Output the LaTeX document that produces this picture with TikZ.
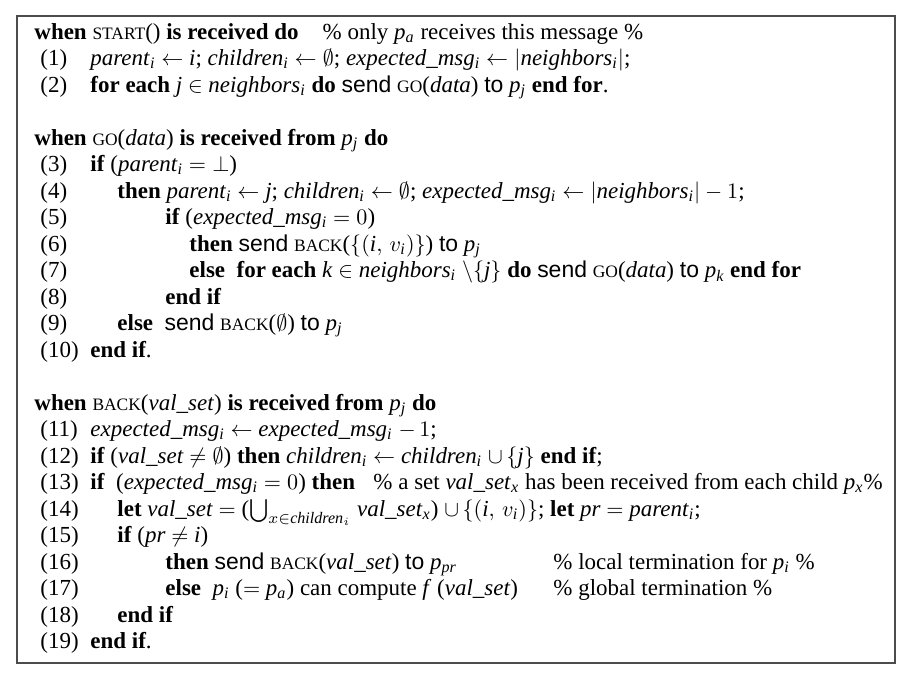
\documentclass[tikz,border=0pt]{standalone}
\usepackage{amsmath,amssymb}
\usepackage{fontspec}
\setmainfont{Liberation Serif}
\setsansfont{Liberation Sans}
\usetikzlibrary{positioning}

% message names in (faked) small capitals
\newcommand{\msgsc}[1]{{\fontsize{7.9}{9}\selectfont #1}}
% italic subscript
\newcommand{\ix}[1]{$_{\textit{#1}}$}
\newcommand{\kw}[1]{\textbf{#1}}
\newcommand{\op}[1]{\textsf{#1}}

\begin{document}
\begin{tikzpicture}
[x=0.4528pt, y=-0.4528pt, font=\fontsize{10.4}{12}\selectfont,
lnum/.style={anchor=base west, inner sep=0pt},
code/.style={anchor=base west, inner sep=0pt},
frame/.style={draw=black!70, line width=0.7pt}]

\useasboundingbox (0,0) rectangle (914,681);
\draw[frame] (17,16) rectangle (895,663);

% line numbers (slot = row of the listing)
\foreach \n/\s in {1/1,2/2,3/5,4/6,5/7,6/8,7/9,8/10,9/11,10/12,
  11/15,12/16,13/17,14/18,15/19,16/20,17/21,18/22,19/23} {
  \node[lnum] (n\n) at (40,39+26.5*\s) {(\n)};
}

% when START()
\node[code] (hstart) at (34,39) {\kw{when} \msgsc{START}() \kw{is received do}\hspace{1.05em}\% only \textit{p}\ix{a} receives this message \%};
\node[code] (b1) at (90,39+26.5*1) {\textit{parent}\ix{i} $\leftarrow$ \textit{i}; \textit{children}\ix{i} $\leftarrow\emptyset$; \textit{expected\_msg}\ix{i} $\leftarrow|$\textit{neighbors}\ix{i}$|$;};
\node[code] (b2) at (90,39+26.5*2) {\kw{for each} \textit{j} $\in$ \textit{neighbors}\ix{i} \kw{do} \op{send} \msgsc{GO}(\textit{data}) \op{to} \textit{p}\ix{j} \kw{end for}.};

% when GO(data)
\node[code] (hgo) at (34,39+26.5*4) {\kw{when} \msgsc{GO}(\textit{data}) \kw{is received from} \textit{p}\ix{j} \kw{do}};
\node[code] (b3) at (90,39+26.5*5) {\kw{if} (\textit{parent}\ix{i} $=\bot$)};
\node[code] (b4) at (117,39+26.5*6) {\kw{then} \textit{parent}\ix{i} $\leftarrow$ \textit{j}; \textit{children}\ix{i} $\leftarrow\emptyset$; \textit{expected\_msg}\ix{i} $\leftarrow|$\textit{neighbors}\ix{i}$|-1$;};
\node[code] (b5) at (165,39+26.5*7) {\kw{if} (\textit{expected\_msg}\ix{i} $=0$)};
\node[code] (b6) at (189,39+26.5*8) {\kw{then} \op{send} \msgsc{BACK}($\{(\textit{i},\,v_{\textit{i}})\}$) \op{to} \textit{p}\ix{j}};
\node[code] (b7) at (189,39+26.5*9) {\kw{else}\ \ \kw{for each} \textit{k} $\in$ \textit{neighbors}\ix{i} $\setminus\{$\textit{j}$\}$ \kw{do} \op{send} \msgsc{GO}(\textit{data}) \op{to} \textit{p}\ix{k} \kw{end for}};
\node[code] (b8) at (165,39+26.5*10) {\kw{end if}};
\node[code] (b9) at (117,39+26.5*11) {\kw{else}\ \ \op{send} \msgsc{BACK}($\emptyset$) \op{to} \textit{p}\ix{j}};
\node[code] (b10) at (90,39+26.5*12) {\kw{end if}.};

% when BACK(val_set)
\node[code] (hback) at (34,39+26.5*14) {\kw{when} \msgsc{BACK}(\textit{val\_set}) \kw{is received from} \textit{p}\ix{j} \kw{do}};
\node[code] (b11) at (90,39+26.5*15) {\textit{expected\_msg}\ix{i} $\leftarrow$ \textit{expected\_msg}\ix{i} $-\,1$;};
\node[code] (b12) at (90,39+26.5*16) {\kw{if} (\textit{val\_set} $\neq\emptyset$) \kw{then} \textit{children}\ix{i} $\leftarrow$ \textit{children}\ix{i} $\cup\,\{$\textit{j}$\}$ \kw{end if};};
\node[code] (b13) at (90,39+26.5*17) {\kw{if}\ \ (\textit{expected\_msg}\ix{i} $=0$) \kw{then}\hspace{0.8em}\% a set \textit{val\_set}\ix{x} has been received from each child \textit{p}\ix{x}\%};
\node[code] (b14) at (117,39+26.5*18) {\kw{let} \textit{val\_set}\ $=$\ (\smash{$\bigcup_{x\in\textit{children}_i}$} \textit{val\_set}\ix{x}) $\cup\,\{(\textit{i},\,v_{\textit{i}})\}$; \kw{let} \textit{pr} $=$ \textit{parent}\ix{i};};
\node[code] (b15) at (117,39+26.5*19) {\kw{if} (\textit{pr} $\neq$ \textit{i})};
\node[code] (b16) at (165,39+26.5*20) {\kw{then} \op{send} \msgsc{BACK}(\textit{val\_set}) \op{to} \textit{p}\ix{pr}};
\node[code] (b17) at (165,39+26.5*21) {\kw{else}\ \ \textit{p}\ix{i} ($=$ \textit{p}\ix{a}) can compute \textit{f} (\textit{val\_set})};
\node[code] (c16) at (553,39+26.5*20) {\% local termination for \textit{p}\ix{i} \%};
\node[code] (c17) at (553,39+26.5*21) {\% global termination \%};
\node[code] (b18) at (117,39+26.5*22) {\kw{end if}};
\node[code] (b19) at (90,39+26.5*23) {\kw{end if}.};
\end{tikzpicture}
\end{document}
